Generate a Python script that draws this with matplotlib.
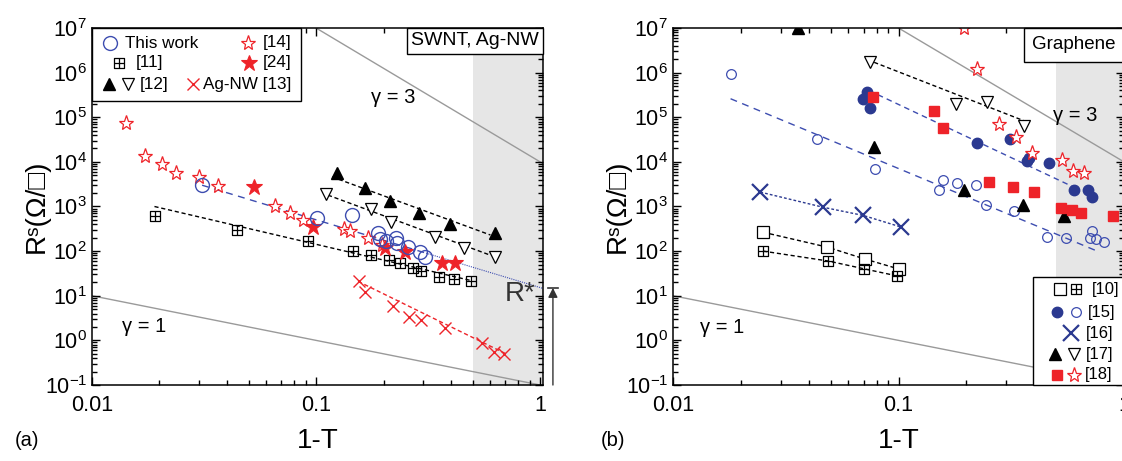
import numpy as np
import matplotlib
matplotlib.use("Agg")
import matplotlib.pyplot as plt
from matplotlib.path import Path
from matplotlib.patches import Rectangle
from matplotlib.ticker import LogLocator, NullFormatter
from matplotlib.offsetbox import AnchoredText
import matplotlib.transforms as mtransforms

plt.rcParams['font.family'] = ['Liberation Sans', 'DejaVu Sans']
plt.rcParams['mathtext.fontset'] = 'custom'
plt.rcParams['mathtext.rm'] = 'Liberation Sans'
plt.rcParams['mathtext.it'] = 'Liberation Sans:italic'
plt.rcParams['mathtext.bf'] = 'Liberation Sans:bold'

# ---------------- data: panel (a) SWNT, Ag-NW ----------------
tw_x = [0.031, 0.101, 0.145, 0.189, 0.193, 0.205, 0.228, 0.230, 0.258, 0.291, 0.307]
tw_y = [3000, 550, 640, 254, 186, 167, 195, 151, 123, 95, 73]
tw_fit_x = [0.031, 0.31]
tw_fit_y = [3000, 90]
tw_ext_x = [0.31, 1.03]
tw_ext_y = [90, 14.6]
r_star = 15

ref14_x = [0.0142, 0.0173, 0.0205, 0.0237, 0.030, 0.0365, 0.0656, 0.0766, 0.0875, 0.133, 0.142, 0.171, 0.197]
ref14_y = [7.4e4, 1.35e4, 8.9e3, 5.6e3, 4.6e3, 2.9e3, 1.0e3, 710, 500, 310, 280, 195, 136]

ref24_x = [0.0528, 0.097, 0.203, 0.249, 0.365, 0.417]
ref24_y = [2700, 345, 117, 95, 54, 54]

ref11_x = [0.0191, 0.0443, 0.092, 0.146, 0.176, 0.212, 0.237, 0.271, 0.294, 0.354, 0.413, 0.492]
ref11_y = [610, 295, 168, 100, 81, 63, 54, 42, 36, 26, 24, 21]
ref11_fit_x = [0.019, 0.49]
ref11_fit_y = [1000, 22]

ref12_up_x = [0.124, 0.166, 0.214, 0.288, 0.396, 0.63]
ref12_up_y = [5600, 2600, 1300, 710, 400, 250]
ref12_up_fit_x = [0.118, 0.60]
ref12_up_fit_y = [4600, 230]
ref12_dn_x = [0.111, 0.176, 0.216, 0.34, 0.458, 0.63]
ref12_dn_y = [1900, 870, 450, 206, 117, 74]
ref12_dn_fit_x = [0.113, 0.60]
ref12_dn_fit_y = [1800, 81]

agnw_x = [0.156, 0.166, 0.221, 0.26, 0.294, 0.377, 0.55, 0.62, 0.69]
agnw_y = [21, 12, 5.9, 3.3, 2.8, 1.9, 0.87, 0.55, 0.49]
agnw_fit_x = [0.154, 0.71]
agnw_fit_y = [21, 0.49]

legend_a_labels = ['This work', '[11]', '[12]', '[14]', '[24]', 'Ag-NW [13]']

# ---------------- data: panel (b) Graphene ----------------
r10_sq_x = [0.0251, 0.0483, 0.0713, 0.1]
r10_sq_y = [265, 123, 66, 40]
r10_gp_x = [0.0251, 0.0488, 0.0706, 0.098]
r10_gp_y = [100, 60, 40, 28]

r15_open_x = [0.0181, 0.0437, 0.079, 0.157, 0.151, 0.181, 0.22, 0.244, 0.324, 0.455, 0.552, 0.72, 0.706, 0.75, 0.815]
r15_open_y = [9.4e5, 3.3e4, 7.1e3, 4.0e3, 2.3e3, 3.3e3, 3.0e3, 1.07e3, 780, 205, 195, 280, 195, 185, 160]
r15_open_fit_x = [0.018, 0.78]
r15_open_fit_y = [2.6e5, 95]

r15_fill_x = [0.0728, 0.0698, 0.075, 0.224, 0.311, 0.371, 0.379, 0.465, 0.60, 0.69, 0.72]
r15_fill_y = [3.7e5, 2.5e5, 1.6e5, 2.7e4, 3.3e4, 1.02e4, 1.2e4, 9.2e3, 2.3e3, 2.4e3, 1.6e3]
r15_fill_fit_x = [0.081, 0.60]
r15_fill_fit_y = [3.2e5, 2.7e3]

r16_x = [0.0244, 0.0464, 0.0698, 0.103]
r16_y = [2100, 960, 630, 345]

r17_up_x = [0.036, 0.078, 0.196, 0.356, 0.54]
r17_up_y = [1.0e7, 2.2e4, 2.4e3, 1.07e3, 600]
r17_dn_x = [0.075, 0.179, 0.246, 0.36]
r17_dn_y = [1.74e6, 2.0e5, 2.2e5, 6.5e4]
r17_dn_fit_x = [0.078, 0.37]
r17_dn_fit_y = [1.7e6, 7.9e4]

r18_sq_x = [0.0774, 0.143, 0.158, 0.251, 0.321, 0.40, 0.525, 0.59, 0.645, 0.89]
r18_sq_y = [2.9e5, 1.4e5, 5.6e4, 3.6e3, 2.7e3, 2.1e3, 910, 830, 710, 600]
r18_st_x = [0.195, 0.224, 0.278, 0.331, 0.39, 0.53, 0.593, 0.664]
r18_st_y = [1.0e7, 1.2e6, 7.2e4, 3.7e4, 1.6e4, 1.1e4, 6.4e3, 5.5e3]

legend_b_labels = ['[10]', '[15]', '[16]', '[17]', '[18]']

# reference power-law lines
gamma1_x = [0.01, 1.1]
gamma1_y = [10, 0.0909]
gamma3_x = [0.1, 1.1]
gamma3_y = [1e7, 7513]

# ---------------- styles ----------------
BLUE = '#3d4db0'
NAVY = '#2b3990'
RED = '#ee2329'
GREY = '#9a9a9a'
SHADE = '#e6e6e6'

bp_verts = [(-1, -1), (1, -1), (1, 1), (-1, 1), (-1, -1), (-1, 0), (1, 0), (0, -1), (0, 1)]
bp_codes = [Path.MOVETO, Path.LINETO, Path.LINETO, Path.LINETO, Path.CLOSEPOLY,
            Path.MOVETO, Path.LINETO, Path.MOVETO, Path.LINETO]
BOXPLUS = Path(bp_verts, bp_codes)

M_TW = dict(marker='o', ms=10, mfc='none', mec=BLUE, mew=1)
M_14 = dict(marker='*', ms=11, mfc='white', mec=RED, mew=0.9)
M_24 = dict(marker='*', ms=12, mfc=RED, mec=RED, mew=0.8)
M_11 = dict(marker=BOXPLUS, ms=7, mfc='none', mec='black', mew=0.9)
M_UP = dict(marker='^', ms=9, mfc='black', mec='black')
M_DN = dict(marker='v', ms=9, mfc='white', mec='black', mew=0.9)
M_AG = dict(marker='x', ms=9, mec=RED, mew=1)
M_10S = dict(marker='s', ms=8, mfc='white', mec='black', mew=0.9)
M_10G = dict(marker=BOXPLUS, ms=7.5, mfc='none', mec='black', mew=0.9)
M_15O = dict(marker='o', ms=7, mfc='none', mec=BLUE, mew=0.9)
M_15F = dict(marker='o', ms=7.5, mfc=NAVY, mec=NAVY)
M_16 = dict(marker='x', ms=11, mec=NAVY, mew=1.6)
M_18S = dict(marker='s', ms=7.5, mfc=RED, mec=RED)
M_18T = dict(marker='*', ms=11, mfc='white', mec=RED, mew=0.9)

fig = plt.figure(figsize=(11.22, 4.61), dpi=100)
axa = fig.add_axes([92 / 1122, 1 - 385 / 461, 451 / 1122, 357 / 461])
axb = fig.add_axes([673 / 1122, 1 - 385 / 461, 451 / 1122, 357 / 461])

fitdash = (0, (3, 2))


def setup(ax, xmax):
    ax.set_xscale('log')
    ax.set_yscale('log')
    ax.axvspan(0.5, 5, color=SHADE, lw=0, zorder=0)
    ax.plot(gamma1_x, gamma1_y, color=GREY, lw=1, zorder=1)
    ax.plot(gamma3_x, gamma3_y, color=GREY, lw=1, zorder=1)
    ax.set_xlim(0.01, xmax)
    ax.set_ylim(0.1, 1e7)
    ax.yaxis.set_major_locator(LogLocator(base=10, numticks=100))
    ax.yaxis.set_minor_locator(LogLocator(base=10, subs=np.arange(2, 10), numticks=100))
    ax.yaxis.set_minor_formatter(NullFormatter())
    ax.xaxis.set_minor_locator(LogLocator(base=10, subs=np.arange(2, 10), numticks=100))
    ax.xaxis.set_minor_formatter(NullFormatter())
    ax.set_xticks([0.01, 0.1, 1])
    ax.set_xticklabels(['0.01', '0.1', '1'])
    ax.tick_params(which='both', direction='in', top=True, right=True, labelsize=15.5, width=1)
    ax.tick_params(which='major', length=6)
    ax.tick_params(which='minor', length=3.5)
    ax.tick_params(axis='x', pad=7)
    for s in ax.spines.values():
        s.set_linewidth(1.1)
        s.set_zorder(20)
    ax.text(0.5, -0.157, '1-T', transform=ax.transAxes, ha='center', va='center', fontsize=20)
    ax.text(-0.123, 0.5, 'Rˢ(Ω/□)', transform=ax.transAxes, ha='center', va='center',
            rotation=90, fontsize=20)


def px_to_axes(ax_left, px, py):
    return (px - ax_left) / 451.0, (385 - py) / 357.0


def legend_marker(ax, ax_left, px, py, style):
    fx, fy = px_to_axes(ax_left, px, py)
    ax.plot([fx], [fy], ls='none', transform=ax.transAxes, clip_on=False, zorder=31, **style)


def legend_text(ax, ax_left, px, py, s, ha, size=12.3):
    fx, fy = px_to_axes(ax_left, px, py)
    ax.text(fx, fy, s, transform=ax.transAxes, ha=ha, va='center', fontsize=size, zorder=31)


setup(axa, 1.03)
setup(axb, 1.0)

# ---------------- panel (a) ----------------
ax = axa
ax.plot(tw_fit_x, tw_fit_y, color=BLUE, lw=1, ls=(0, (5, 4)), zorder=2)
ax.plot(tw_ext_x, tw_ext_y, color=BLUE, lw=0.8, ls=(0, (1, 1)), zorder=2)
ax.plot(ref11_fit_x, ref11_fit_y, color='black', lw=1, ls=fitdash, zorder=2)
ax.plot(ref12_up_fit_x, ref12_up_fit_y, color='black', lw=1, ls=fitdash, zorder=2)
ax.plot(ref12_dn_fit_x, ref12_dn_fit_y, color='black', lw=1, ls=fitdash, zorder=2)
ax.plot(agnw_fit_x, agnw_fit_y, color=RED, lw=1, ls=fitdash, zorder=2)

ax.plot(ref14_x, ref14_y, ls='none', zorder=3, **M_14)
ax.plot(ref24_x, ref24_y, ls='none', zorder=4, **M_24)
ax.plot(ref11_x, ref11_y, ls='none', zorder=3, **M_11)
ax.plot(ref12_up_x, ref12_up_y, ls='none', zorder=3, **M_UP)
ax.plot(ref12_dn_x, ref12_dn_y, ls='none', zorder=3, **M_DN)
ax.plot(agnw_x, agnw_y, ls='none', zorder=3, **M_AG)
ax.plot(tw_x, tw_y, ls='none', zorder=5, **M_TW)

trans_a = mtransforms.blended_transform_factory(ax.transAxes, ax.transData)
ax.annotate('', xy=(1.022, r_star), xycoords=trans_a, xytext=(1.022, 0.1), textcoords=trans_a,
            arrowprops=dict(arrowstyle='-|>', color='#333333', lw=1, shrinkA=0, shrinkB=0,
                            mutation_scale=14), annotation_clip=False)
ax.plot([1.010, 1.034], [r_star, r_star], color='#333333', lw=1.2, transform=trans_a, clip_on=False)
ax.text(0.95, 11, 'R*', transform=trans_a, ha='center', va='center', fontsize=20, color='#333333')

ax.text(0.22, 2.8e5, 'γ = 3', fontsize=14.5, ha='center', va='center')
ax.text(0.017, 2.0, 'γ = 1', fontsize=14.5, ha='center', va='center')

# legend box (a)
fx0, fy0 = px_to_axes(92, 92, 101)
ax.add_patch(Rectangle((fx0, fy0), (301 - 92) / 451.0, 1 - fy0, transform=ax.transAxes,
                       facecolor='white', edgecolor='black', lw=1, zorder=30, clip_on=False))
legend_marker(ax, 92, 110, 43, M_TW)
legend_text(ax, 92, 125, 43, legend_a_labels[0], 'left')
legend_marker(ax, 92, 119, 63, M_11)
legend_text(ax, 92, 136, 63, legend_a_labels[1], 'left')
legend_marker(ax, 92, 109, 84, M_UP)
legend_marker(ax, 92, 128, 84, M_DN)
legend_text(ax, 92, 140, 84, legend_a_labels[2], 'left')
legend_marker(ax, 92, 248, 43, M_14)
legend_text(ax, 92, 291, 43, legend_a_labels[3], 'right')
legend_marker(ax, 92, 249, 63, M_24)
legend_text(ax, 92, 291, 63, legend_a_labels[4], 'right')
legend_marker(ax, 92, 193, 84, M_AG)
legend_text(ax, 92, 291, 84, legend_a_labels[5], 'right')

at = AnchoredText('SWNT, Ag-NW', loc='upper right', prop=dict(size=14), frameon=True,
                  borderpad=0, pad=0.22)
at.patch.set_boxstyle('square,pad=0')
at.patch.set_edgecolor('black')
at.patch.set_linewidth(1)
at.set_zorder(30)
ax.add_artist(at)

# ---------------- panel (b) ----------------
ax = axb
ax.plot(r15_open_fit_x, r15_open_fit_y, color=BLUE, lw=1, ls=(0, (5, 4)), zorder=2)
ax.plot(r15_fill_fit_x, r15_fill_fit_y, color=BLUE, lw=1, ls=(0, (4, 3)), zorder=2)
ax.plot(r17_dn_fit_x, r17_dn_fit_y, color='black', lw=1, ls=fitdash, zorder=2)
ax.plot(r10_sq_x, r10_sq_y, color='black', lw=1, ls=fitdash, zorder=2)
ax.plot(r10_gp_x, r10_gp_y, color='black', lw=1, ls=fitdash, zorder=2)
ax.plot(r16_x, r16_y, color=NAVY, lw=1, ls=(0, (2, 1.5)), zorder=2)

ax.plot(r10_sq_x, r10_sq_y, ls='none', zorder=3, **M_10S)
ax.plot(r10_gp_x, r10_gp_y, ls='none', zorder=3, **M_10G)
ax.plot(r15_open_x, r15_open_y, ls='none', zorder=3, **M_15O)
ax.plot(r15_fill_x, r15_fill_y, ls='none', zorder=3, **M_15F)
ax.plot(r16_x, r16_y, ls='none', zorder=3, **M_16)
ax.plot(r17_up_x, r17_up_y, ls='none', zorder=3, **M_UP)
ax.plot(r17_dn_x, r17_dn_y, ls='none', zorder=3, **M_DN)
ax.plot(r18_sq_x, r18_sq_y, ls='none', zorder=4, **M_18S)
ax.plot(r18_st_x, r18_st_y, ls='none', zorder=4, **M_18T)

ax.text(0.61, 1.1e5, 'γ = 3', fontsize=14.5, ha='center', va='center')
ax.text(0.0165, 1.9, 'γ = 1', fontsize=14.5, ha='center', va='center')

# legend box (b)
bx0, by0 = px_to_axes(673, 1033, 277)
ax.add_patch(Rectangle((bx0, 0), 1.02 - bx0, by0, transform=ax.transAxes,
                       facecolor='white', edgecolor='black', lw=1, zorder=30, clip_on=False))
legend_marker(ax, 673, 1060, 289, M_10S)
legend_marker(ax, 673, 1076, 289, M_10G)
legend_text(ax, 673, 1092, 289, legend_b_labels[0], 'left', 12)
legend_marker(ax, 673, 1057, 312, M_15F)
legend_marker(ax, 673, 1076, 312, M_15O)
legend_text(ax, 673, 1088, 312, legend_b_labels[1], 'left', 12)
legend_marker(ax, 673, 1071, 333, M_16)
legend_text(ax, 673, 1086, 333, legend_b_labels[2], 'left', 12)
legend_marker(ax, 673, 1055, 354, M_UP)
legend_marker(ax, 673, 1074, 354, M_DN)
legend_text(ax, 673, 1086, 354, legend_b_labels[3], 'left', 12)
legend_marker(ax, 673, 1057, 375, M_18S)
legend_marker(ax, 673, 1074, 375, M_18T)
legend_text(ax, 673, 1085, 374, legend_b_labels[4], 'left', 12)

atb = AnchoredText('Graphene', loc='upper right', prop=dict(size=13.5), frameon=True,
                   borderpad=0, pad=0.45)
atb.patch.set_boxstyle('square,pad=0')
atb.patch.set_edgecolor('black')
atb.patch.set_linewidth(1)
atb.set_zorder(30)
ax.add_artist(atb)

fig.text(0.024, 0.045, '(a)', fontsize=14.5, ha='center', va='center')
fig.text(0.546, 0.045, '(b)', fontsize=14.5, ha='center', va='center')

fig.savefig('out.png', dpi=100)
